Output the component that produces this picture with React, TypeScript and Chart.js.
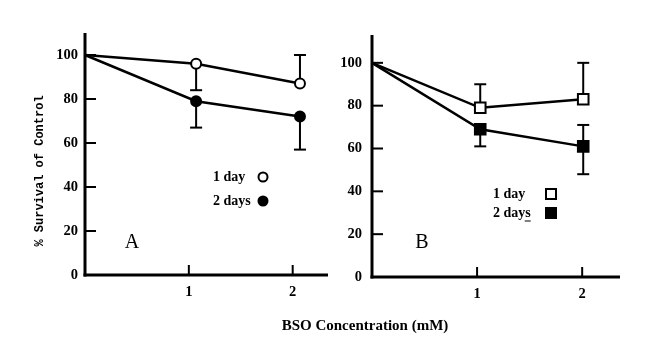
import React, { useEffect, useRef } from 'react';
import { Chart, registerables } from 'chart.js';

Chart.register(...registerables);

// ---- Data ----
const xTickValues = [1, 2];
const yTickStep = 20;

// Panel A (circles)
const concA = [0, 1.07, 2.07];
const oneDayA = [100, 96, 87];
const twoDaysA = [100, 79, 72];
const oneDayErrA: number[][] = [[], [84], [100]];
const twoDaysErrA: number[][] = [[], [67], [57]];

// Panel B (squares)
const concB = [0, 1.03, 2.01];
const oneDayB = [100, 79, 83];
const twoDaysB = [100, 69, 61];
const oneDayErrB: number[][] = [[], [90], [100]];
const twoDaysErrB: number[][] = [[], [61], [71, 48]];

const seriesLabels = ['1 day', '2 days'];
const xTitle = 'BSO Concentration (mM)';
const yTitle = '% Survival of Control';

const SERIF = '"Liberation Serif", "Times New Roman", serif';
const MONO = '"Liberation Mono", "Courier New", monospace';

type PanelCfg = {
  letter: string;
  style: 'circle' | 'rect';
  xs: number[];
  one: number[];
  two: number[];
  oneErr: number[][];
  twoErr: number[][];
  yMax: number;
  xMax: number;
  yScaleWidth: number;
  xScaleHeight: number;
  padTop: number;
  padRight: number;
  yLabelPad: number;
  legendX: number;
  legendMarkerX: number;
  legendY: number[];
  letterPos: [number, number];
  showYTitle: boolean;
  underlineS: boolean;
  radius: number;
};

function line(ctx: CanvasRenderingContext2D, x1: number, y1: number, x2: number, y2: number) {
  ctx.beginPath();
  ctx.moveTo(x1, y1);
  ctx.lineTo(x2, y2);
  ctx.stroke();
}

function marker(ctx: CanvasRenderingContext2D, style: string, filled: boolean, x: number, y: number, size: number) {
  ctx.save();
  ctx.lineWidth = 2;
  ctx.strokeStyle = '#000';
  ctx.fillStyle = filled ? '#000' : '#fff';
  ctx.beginPath();
  if (style === 'circle') {
    ctx.arc(x, y, size, 0, Math.PI * 2);
  } else {
    ctx.rect(x - size, y - size, size * 2, size * 2);
  }
  ctx.fill();
  ctx.stroke();
  ctx.restore();
}

function makeDeco(cfg: PanelCfg) {
  return {
    id: 'deco' + cfg.letter,
    beforeDatasetsDraw(chart: any) {
      const { ctx, chartArea: ca, scales } = chart;
      const x = scales.x;
      const y = scales.y;
      ctx.save();
      ctx.strokeStyle = '#000';
      ctx.lineCap = 'butt';
      // axes
      ctx.lineWidth = 3;
      line(ctx, ca.left, ca.top, ca.left, ca.bottom + 1.5);
      line(ctx, ca.left - 1.5, ca.bottom, ca.right, ca.bottom);
      // inward ticks
      ctx.lineWidth = 2;
      y.ticks.forEach((t: any) => {
        if (t.value === 0) return;
        const py = y.getPixelForValue(t.value);
        line(ctx, ca.left, py, ca.left + 11, py);
      });
      x.ticks.forEach((t: any) => {
        const px = x.getPixelForValue(t.value);
        line(ctx, px, ca.bottom, px, ca.bottom - 10);
      });
      // error bars
      const errs = [cfg.oneErr, cfg.twoErr];
      errs.forEach((set, di) => {
        const meta = chart.getDatasetMeta(di);
        set.forEach((ends, j) => {
          const pt = meta.data[j];
          ends.forEach((v) => {
            const py = y.getPixelForValue(v);
            line(ctx, pt.x, pt.y, pt.x, py);
            line(ctx, pt.x - 6, py, pt.x + 6, py);
          });
        });
      });
      ctx.restore();
    },
    afterDatasetsDraw(chart: any) {
      const { ctx } = chart;
      ctx.save();
      ctx.fillStyle = '#000';
      // legend
      ctx.font = `bold 14px ${SERIF}`;
      ctx.textAlign = 'left';
      ctx.textBaseline = 'middle';
      seriesLabels.forEach((lab, i) => {
        const ly = cfg.legendY[i];
        ctx.fillText(lab, cfg.legendX, ly);
        if (i === 1 && cfg.underlineS) {
          const w = ctx.measureText(lab).width;
          ctx.strokeStyle = '#000';
          ctx.lineWidth = 1;
          line(ctx, cfg.legendX + w - 6, ly + 8, cfg.legendX + w, ly + 8);
        }
        marker(ctx, cfg.style, i === 1, cfg.legendMarkerX, ly, cfg.style === 'circle' ? 4.5 : 5);
      });
      // panel letter
      ctx.font = `20px ${SERIF}`;
      ctx.textAlign = 'center';
      ctx.fillText(cfg.letter, cfg.letterPos[0], cfg.letterPos[1]);
      // y title
      if (cfg.showYTitle) {
        ctx.translate(40, 171);
        ctx.rotate(-Math.PI / 2);
        ctx.font = `bold 12px ${MONO}`;
        ctx.textAlign = 'center';
        ctx.textBaseline = 'middle';
        ctx.fillText(yTitle, 0, 0);
      }
      ctx.restore();
    },
  };
}

function buildChart(canvas: HTMLCanvasElement, cfg: PanelCfg) {
  const ds = (vals: number[], filled: boolean, label: string) => ({
    label,
    data: vals.map((v, i) => ({ x: cfg.xs[i], y: v })),
    borderColor: '#000',
    borderWidth: 2.5,
    backgroundColor: filled ? '#000' : '#fff',
    pointBackgroundColor: filled ? '#000' : '#fff',
    pointBorderColor: '#000',
    pointBorderWidth: 2,
    pointStyle: cfg.style,
    pointRadius: vals.map((_, i) => (i === 0 ? 0 : cfg.radius)),
    tension: 0,
    clip: false as any,
  });
  return new Chart(canvas, {
    type: 'line',
    data: {
      datasets: [ds(cfg.one, false, seriesLabels[0]), ds(cfg.two, true, seriesLabels[1])],
    },
    options: {
      animation: false,
      responsive: false,
      events: [],
      layout: { padding: { top: cfg.padTop, right: cfg.padRight, left: 0, bottom: 0 } },
      plugins: { legend: { display: false }, tooltip: { enabled: false }, title: { display: false } },
      scales: {
        x: {
          type: 'linear',
          min: 0,
          max: cfg.xMax,
          grid: { display: false, drawTicks: false },
          border: { display: false },
          ticks: {
            stepSize: 1,
            padding: 9,
            color: '#000',
            font: { family: SERIF, size: 14.5, weight: 'bold' },
            maxRotation: 0,
          },
          afterBuildTicks: (s: any) => {
            s.ticks = xTickValues.map((v) => ({ value: v }));
          },
          afterFit: (s: any) => {
            s.height = cfg.xScaleHeight;
          },
        },
        y: {
          type: 'linear',
          min: 0,
          max: cfg.yMax,
          grid: { display: false, drawTicks: false },
          border: { display: false },
          ticks: {
            stepSize: yTickStep,
            padding: cfg.yLabelPad,
            color: '#000',
            font: { family: SERIF, size: 14.5, weight: 'bold' },
          },
          afterBuildTicks: (s: any) => {
            s.ticks = s.ticks.filter((t: any) => t.value % yTickStep === 0);
          },
          afterFit: (s: any) => {
            s.width = cfg.yScaleWidth;
          },
        },
      },
    },
    plugins: [makeDeco(cfg) as any],
  });
}

const panelA: PanelCfg = {
  letter: 'A',
  style: 'circle',
  xs: concA,
  one: oneDayA,
  two: twoDaysA,
  oneErr: oneDayErrA,
  twoErr: twoDaysErrA,
  yMax: 110,
  xMax: 2.34,
  yScaleWidth: 85,
  xScaleHeight: 76,
  padTop: 33,
  padRight: 2,
  yLabelPad: 7,
  legendX: 213,
  legendMarkerX: 263,
  legendY: [177, 201],
  letterPos: [132, 243],
  showYTitle: true,
  underlineS: false,
  radius: 5,
};

const panelB: PanelCfg = {
  letter: 'B',
  style: 'rect',
  xs: concB,
  one: oneDayB,
  two: twoDaysB,
  oneErr: oneDayErrB,
  twoErr: twoDaysErrB,
  yMax: 113,
  xMax: 2.36,
  yScaleWidth: 37,
  xScaleHeight: 74,
  padTop: 35,
  padRight: 47,
  yLabelPad: 10,
  legendX: 158,
  legendMarkerX: 216,
  legendY: [194, 213],
  letterPos: [87, 243],
  showYTitle: false,
  underlineS: true,
  radius: 7.5,
};

export default function App() {
  const refA = useRef<HTMLCanvasElement>(null);
  const refB = useRef<HTMLCanvasElement>(null);
  useEffect(() => {
    const a = buildChart(refA.current!, panelA);
    const b = buildChart(refB.current!, panelB);
    return () => {
      a.destroy();
      b.destroy();
    };
  }, []);
  return (
    <div style={{ position: 'fixed', left: 0, top: 0, width: 667, height: 351, background: '#fff', overflow: 'hidden' }}>
      <canvas ref={refA} width={335} height={351} style={{ position: 'absolute', left: 0, top: 0, width: 335, height: 351 }} />
      <canvas ref={refB} width={332} height={351} style={{ position: 'absolute', left: 335, top: 0, width: 332, height: 351 }} />
      <div
        style={{
          position: 'absolute',
          left: 0,
          width: 730,
          top: 315,
          textAlign: 'center',
          fontFamily: SERIF,
          fontWeight: 'bold',
          fontSize: 15,
          lineHeight: '20px',
          color: '#000',
          whiteSpace: 'nowrap',
        }}
      >
        {xTitle}
      </div>
    </div>
  );
}
